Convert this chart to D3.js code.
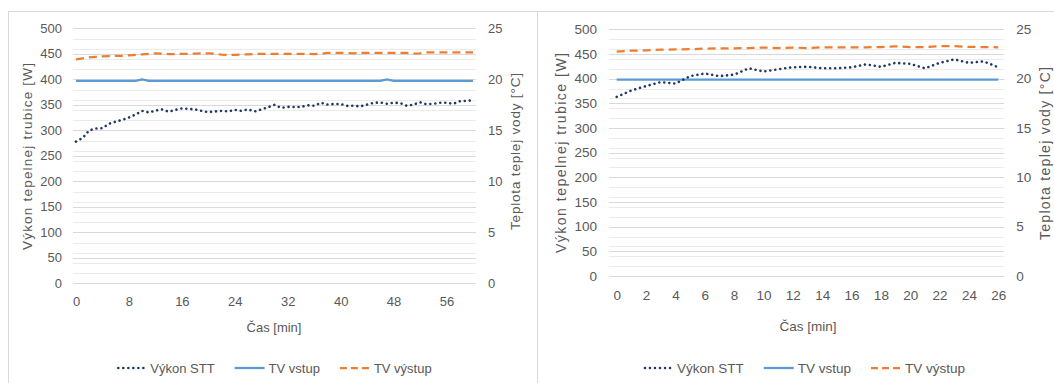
<!DOCTYPE html>
<html><head><meta charset="utf-8">
<script src="https://cdn.jsdelivr.net/npm/d3@7"></script>
<style>
html,body{margin:0;padding:0;background:#fff;}
svg{display:block;}
svg text{font-family:'Liberation Sans',Arial,sans-serif;fill:#595959;}
</style></head>
<body>
<svg id="chart" width="1054" height="383"></svg>
<script>
// ---------- DATA ----------
const seriesNames = ["Výkon STT", "TV vstup", "TV výstup"];
const xTitle = "Čas [min]";
const yTitleLeft = "Výkon tepelnej trubice [W]";
const yTitleRight = "Teplota teplej vody [°C]";

const yTicksW = [0, 50, 100, 150, 200, 250, 300, 350, 400, 450, 500];
const yTicksC = [0, 5, 10, 15, 20, 25];
const minorTicksC = [0,1,2,3,4,5,6,7,8,9,10,11,12,13,14,15,16,17,18,19,20,21,22,23,24,25];

// Chart A (left)
const timeA = [0,1,2,3,4,5,6,7,8,9,10,11,12,13,14,15,16,17,18,19,20,21,22,23,24,25,26,27,28,29,30,
  31,32,33,34,35,36,37,38,39,40,41,42,43,44,45,46,47,48,49,50,51,52,53,54,55,56,57,58,59,60];
const xTicksA = [0, 8, 16, 24, 32, 40, 48, 56];
const vykonA = [278,285,300,303.5,304,313,317,320.5,325,331,
  338,335,338.5,341,336.5,340,343,342,341,338,
  335.5,337,338,337,340,338,341,337,341,345,
  350,344,346,345.7,345.7,349,348,354,350.5,351.5,
  351.5,348,348,347,350.5,354,354.5,352,354,353.5,
  348,350.5,355,351,352,354,354,352,357,357.5,359];
const tvVstupA = [19.85,19.85,19.85,19.85,19.85,19.85,19.85,19.85,19.85,19.85,
  19.98,19.85,19.85,19.85,19.85,19.85,19.85,19.85,19.85,19.85,
  19.85,19.85,19.85,19.85,19.85,19.85,19.85,19.85,19.85,19.85,
  19.85,19.85,19.85,19.85,19.85,19.85,19.85,19.85,19.85,19.85,
  19.85,19.85,19.85,19.85,19.85,19.85,19.85,19.98,19.85,19.85,
  19.85,19.85,19.85,19.85,19.85,19.85,19.85,19.85,19.85,19.85,19.85];
const tvVystupA = [21.95,22.05,22.15,22.2,22.25,22.27,22.3,22.3,22.35,22.4,
  22.45,22.5,22.55,22.52,22.48,22.48,22.5,22.5,22.52,22.55,
  22.55,22.5,22.42,22.4,22.4,22.42,22.45,22.47,22.5,22.5,
  22.5,22.5,22.5,22.5,22.5,22.5,22.48,22.5,22.58,22.6,
  22.6,22.57,22.55,22.58,22.6,22.6,22.6,22.6,22.6,22.6,
  22.58,22.52,22.55,22.63,22.63,22.63,22.63,22.63,22.63,22.63,22.63];

// Chart B (right)
const timeB = [0,1,2,3,4,5,6,7,8,9,10,11,12,13,14,15,16,17,18,19,20,21,22,23,24,25,26];
const xTicksB = [0, 2, 4, 6, 8, 10, 12, 14, 16, 18, 20, 22, 24, 26];
const vykonB = [363,376,385,393,390,405,410.5,405,408,421,414.5,419,423,424,421,421,423,429,424,432,430,421,432,439,432,435,423];
const tvVstupB = [19.9,19.9,19.9,19.9,19.9,19.9,19.9,19.9,19.9,19.9,19.9,19.9,19.9,19.9,19.9,19.9,19.9,19.9,19.9,19.9,19.9,19.9,19.9,19.9,19.9,19.9,19.9];
const tvVystupB = [22.73,22.83,22.87,22.93,22.97,22.98,23.05,23.07,23.07,23.1,23.15,23.1,23.15,23.1,23.18,23.18,23.18,23.18,23.2,23.28,23.2,23.2,23.28,23.3,23.22,23.2,23.18];

// ---------- STYLES ----------
const FONT = "Liberation Sans, Arial, sans-serif";
const colVykon = "#203864", colIn = "#5B9BD5", colOut = "#ED7D31";
const gridMajor = "#d9d9d9", gridMinor = "#ebebeb";

const svg = d3.select("#chart");

// panel frame lines
svg.append("line").attr("x1", 8).attr("x2", 1054).attr("y1", 11.5).attr("y2", 11.5).attr("stroke", "#d9d9d9");
svg.append("line").attr("x1", 8.5).attr("x2", 8.5).attr("y1", 11.5).attr("y2", 383).attr("stroke", "#d9d9d9");
svg.append("line").attr("x1", 537.5).attr("x2", 537.5).attr("y1", 11.5).attr("y2", 383).attr("stroke", "#d9d9d9");

function styleText(sel, fs) {
  sel.attr("font-size", fs).attr("font-family", FONT).attr("fill", "#595959");
}

function drawPanel(cfg, time, xTicks, vykon, tvIn, tvOut) {
  const g = svg.append("g").attr("font-family", FONT);
  const x = d3.scaleLinear().domain([time[0], time[time.length - 1]]).range([cfg.dataX0, cfg.dataX1]);
  const yW = d3.scaleLinear().domain([0, 500]).range([cfg.y0, cfg.y1]);
  const yC = d3.scaleLinear().domain([0, 25]).range([cfg.y0, cfg.y1]);

  // minor gridlines (secondary axis, 1 °C)
  g.append("g").selectAll("line").data(minorTicksC).join("line")
    .attr("x1", cfg.gridX0).attr("x2", cfg.gridX1)
    .attr("y1", d => Math.round(yC(d)) + 0.5).attr("y2", d => Math.round(yC(d)) + 0.5)
    .attr("stroke", gridMinor).attr("stroke-width", 1);
  // major gridlines (primary axis)
  g.append("g").selectAll("line").data(yTicksW).join("line")
    .attr("x1", cfg.gridX0).attr("x2", cfg.gridX1)
    .attr("y1", d => Math.round(yW(d)) + 0.5).attr("y2", d => Math.round(yW(d)) + 0.5)
    .attr("stroke", gridMajor).attr("stroke-width", 1);

  // left axis labels
  const axL = g.append("g").attr("transform", `translate(${cfg.gridX0},0)`)
    .call(d3.axisLeft(yW).tickValues(yTicksW).tickSize(0).tickPadding(cfg.padL));
  axL.attr("font-family", FONT).select(".domain").remove();
  styleText(axL.selectAll("text"), cfg.fs);
  // right axis labels
  const axR = g.append("g").attr("transform", `translate(${cfg.gridX1},0)`)
    .call(d3.axisRight(yC).tickValues(yTicksC).tickSize(0).tickPadding(cfg.padR));
  axR.attr("font-family", FONT).select(".domain").remove();
  styleText(axR.selectAll("text"), cfg.fs);
  // bottom axis labels
  const axB = g.append("g").attr("transform", `translate(0,${cfg.y0})`)
    .call(d3.axisBottom(x).tickValues(xTicks).tickSize(0).tickPadding(cfg.padB).tickFormat(d3.format("d")));
  axB.attr("font-family", FONT).select(".domain").remove();
  styleText(axB.selectAll("text"), cfg.fs);

  // axis titles
  styleText(g.append("text").attr("x", cfg.xTitleX).attr("y", cfg.xTitleY)
    .attr("text-anchor", "middle").text(xTitle), cfg.fs);
  styleText(g.append("text").attr("transform", `translate(${cfg.yTitleLX},${cfg.yTitleLY}) rotate(-90)`)
    .attr("text-anchor", "middle").attr("dy", "0.35em")
    .attr("textLength", cfg.yTitleLLen).attr("lengthAdjust", "spacing").text(yTitleLeft), cfg.fsTitle);
  styleText(g.append("text").attr("transform", `translate(${cfg.yTitleRX},${cfg.yTitleRY}) rotate(-90)`)
    .attr("text-anchor", "middle").attr("dy", "0.35em")
    .attr("textLength", cfg.yTitleRLen).attr("lengthAdjust", "spacing").text(yTitleRight), cfg.fsTitle);

  // series
  const lineW = d3.line().x((d, i) => x(time[i])).y(d => yW(d));
  const lineC = d3.line().x((d, i) => x(time[i])).y(d => yC(d));
  g.append("path").datum(tvIn).attr("d", lineC).attr("fill", "none")
    .attr("stroke", colIn).attr("stroke-width", 2.25);
  g.append("path").datum(tvOut).attr("d", lineC).attr("fill", "none")
    .attr("stroke", colOut).attr("stroke-width", 2.25).attr("stroke-dasharray", "8,5");
  g.append("path").datum(vykon).attr("d", lineW).attr("fill", "none")
    .attr("stroke", colVykon).attr("stroke-width", 2.6).attr("stroke-linecap", "round")
    .attr("stroke-dasharray", "0.01,5");

  // legend
  const leg = g.append("g");
  const styles = [
    {stroke: colVykon, w: 2.6, dash: "0.01,5", cap: "round"},
    {stroke: colIn, w: 2.25, dash: null, cap: "butt"},
    {stroke: colOut, w: 2.25, dash: "7,4", cap: "butt"}
  ];
  const sampleW = 30, gapT = 4, gapItem = 20;
  let cx = 0;
  seriesNames.forEach((name, i) => {
    const it = leg.append("g").attr("transform", `translate(${cx},0)`);
    const s = styles[i];
    it.append("line").attr("x1", i === 0 ? 2 : 0).attr("x2", sampleW).attr("y1", 0).attr("y2", 0)
      .attr("stroke", s.stroke).attr("stroke-width", s.w).attr("stroke-linecap", s.cap)
      .attr("stroke-dasharray", s.dash);
    const t = it.append("text").attr("x", sampleW + gapT).attr("dy", "0.35em").text(name);
    styleText(t, cfg.fs);
    const tw = t.node().getComputedTextLength();
    cx += sampleW + gapT + tw + gapItem;
  });
  const total = cx - gapItem;
  leg.attr("transform", `translate(${cfg.legendCX - total / 2},${cfg.legendY})`);
}

drawPanel({
  dataX0: 76, dataX1: 473, gridX0: 73, gridX1: 476, y0: 283.3, y1: 28.3,
  padL: 11, padR: 12, padB: 13, fs: 13, fsTitle: 13.5,
  xTitleX: 274, xTitleY: 332, legendY: 368, legendCX: 274,
  yTitleLX: 27, yTitleLY: 156.5, yTitleLLen: 187,
  yTitleRX: 515, yTitleRY: 151.5, yTitleRLen: 157
}, timeA, xTicksA, vykonA, tvVstupA, tvVystupA);

drawPanel({
  dataX0: 616.7, dataX1: 998.3, gridX0: 609, gridX1: 1004.3, y0: 276, y1: 29.3,
  padL: 12, padR: 12, padB: 14, fs: 13.5, fsTitle: 14,
  xTitleX: 808, xTitleY: 331, legendY: 368, legendCX: 804,
  yTitleLX: 561, yTitleLY: 153, yTitleLLen: 200,
  yTitleRX: 1045, yTitleRY: 153.5, yTitleRLen: 173
}, timeB, xTicksB, vykonB, tvVstupB, tvVystupB);
</script>
</body></html>
